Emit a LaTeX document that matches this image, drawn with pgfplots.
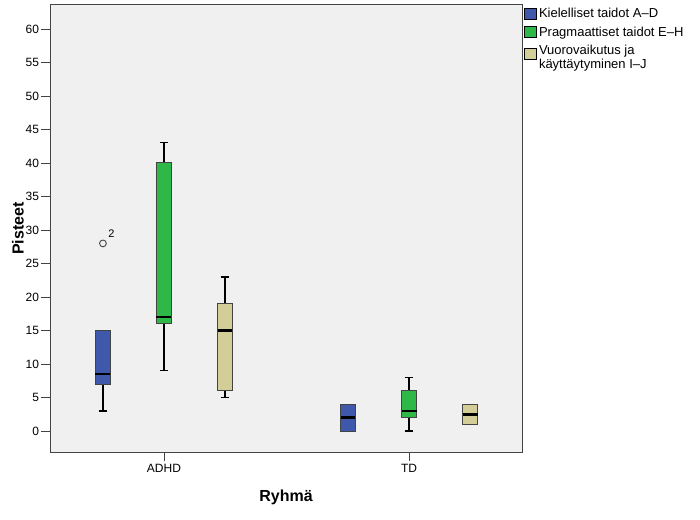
\documentclass[border=0pt]{standalone}
\usepackage{fontspec}
\setmainfont{Liberation Sans}
\usepackage{pgfplots}
\pgfplotsset{compat=1.18}
\usepgfplotslibrary{statistics}
\definecolor{sblue}{RGB}{62,88,172}
\definecolor{sgreen}{RGB}{46,184,72}
\definecolor{stan}{RGB}{211,206,151}
\definecolor{sbg}{RGB}{240,240,240}
\definecolor{sframe}{RGB}{68,68,68}
\begin{document}
\begin{tikzpicture}
\useasboundingbox (0pt,0pt) rectangle (700pt,519pt);
\begin{axis}[
  at={(50pt,67pt)}, anchor=south west, scale only axis,
  width=472pt, height=447pt,
  xmin=-0.465, xmax=1.461, ymin=-3.13, ymax=63.58,
  axis background/.style={fill=sbg},
  axis line style={sframe, line width=1pt},
  xtick={0,1}, xticklabels={ADHD,TD},
  ytick={0,5,...,60},
  tick pos=left, tick align=outside, major tick length=9pt,
  tick style={sframe, line width=0.8pt},
  ticklabel style={font=\fontsize{12}{14}\selectfont},
  yticklabel style={xshift=1.5pt},
  /pgf/number format/assume math mode=true,
  xlabel={Ryhmä}, ylabel={Pisteet},
  label style={font=\bfseries\fontsize{16}{19}\selectfont},
  xlabel style={yshift=-10pt},
  ylabel style={yshift=-5pt},
  boxplot/draw direction=y,
  legend style={at={(1,1)}, anchor=north west, xshift=2pt, yshift=-1pt, draw=none, fill=none,
    font=\fontsize{13}{14}\selectfont, cells={anchor=west, align=left}, inner sep=0pt, row sep=3.5pt},
  legend image code/.code={\draw[#1] (0pt,-5.5pt) rectangle (12pt,5.5pt);},
]
\pgfplotsset{
  boxplot/box extend=0.061,
  boxplot/whisker extend=0.033,
  boxplot/every median/.style={black, line width=2.5pt},
  boxplot/every whisker/.style={black, line width=1.2pt},
  boxplot/every box/.style={draw=sframe, line width=1pt},
}
\addplot+[forget plot, boxplot prepared={draw position=-0.249, lower whisker=3, lower quartile=7, median=8.5, upper quartile=15, upper whisker=15}, fill=sblue, draw=sframe, mark=o, mark size=3.4pt, mark options={draw=sframe, line width=0.9pt, fill=none}] table[row sep=\\, y index=0] {28\\};
\addplot+[forget plot, boxplot prepared={draw position=0, lower whisker=9, lower quartile=16, median=17, upper quartile=40, upper whisker=43}, fill=sgreen, draw=sframe] coordinates {};
\addplot+[forget plot, boxplot prepared={draw position=0.249, lower whisker=5, lower quartile=6, median=15, upper quartile=19, upper whisker=23}, fill=stan, draw=sframe] coordinates {};
\addplot+[forget plot, boxplot prepared={draw position=0.751, lower whisker=0, lower quartile=0, median=2, upper quartile=4, upper whisker=4}, fill=sblue, draw=sframe] coordinates {};
\addplot+[forget plot, boxplot prepared={draw position=1, lower whisker=0, lower quartile=2, median=3, upper quartile=6, upper whisker=8}, fill=sgreen, draw=sframe] coordinates {};
\addplot+[forget plot, boxplot prepared={draw position=1.249, lower whisker=1, lower quartile=1, median=2.5, upper quartile=4, upper whisker=4}, fill=stan, draw=sframe] coordinates {};
\node[font=\fontsize{11}{11}\selectfont] at (axis cs:-0.214,29.5) {2};
\addlegendimage{fill=sblue, draw=black, line width=0.8pt}
\addlegendentry{Kielelliset taidot A--D}
\addlegendimage{fill=sgreen, draw=black, line width=0.8pt}
\addlegendentry{Pragmaattiset taidot E--H}
\addlegendimage{legend image code/.code={\draw[fill=stan, draw=black, line width=0.8pt] (0pt,-2pt) rectangle (12pt,9pt);}}
\addlegendentry{Vuorovaikutus ja\\käyttäytyminen I--J}
\end{axis}
\end{tikzpicture}
\end{document}
